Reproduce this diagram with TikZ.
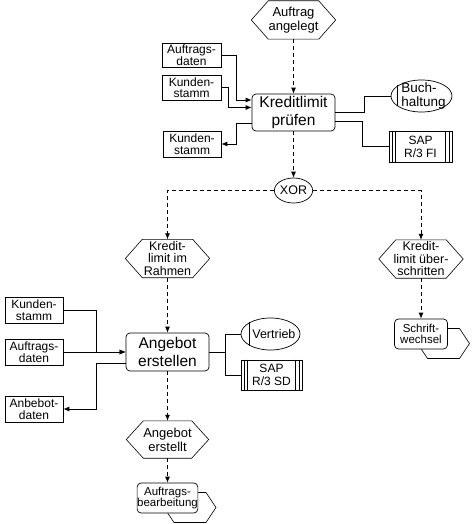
\documentclass[tikz,border=0pt]{standalone}
\usepackage{fontspec}
\setmainfont{Liberation Sans}
\usetikzlibrary{shapes.geometric,arrows.meta,calc,backgrounds}
\begin{document}
\begin{tikzpicture}[x=1pt,y=-1pt,
  ln/.style={line width=0.8pt},
  arr/.style={line width=0.8pt,-{Latex[length=6pt,width=5pt]}},
  dsh/.style={line width=0.8pt,dash pattern=on 4pt off 3pt,-{Latex[length=6pt,width=5pt]}},
  databox/.style={draw,line width=0.7pt,rectangle,inner sep=0pt,align=center,fill=white,
    font=\fontsize{12}{11.5}\selectfont},
  proc/.style={draw,line width=0.7pt,rectangle,rounded corners=4pt,inner sep=0pt,align=center,fill=white,
    font=\fontsize{15.5}{17.5}\selectfont},
  smallproc/.style={draw,line width=0.7pt,rectangle,rounded corners=4pt,inner sep=0pt,align=center,fill=white,
    font=\fontsize{11.5}{11.5}\selectfont},
  event/.style={rectangle,inner sep=0pt,align=center,minimum width=84pt,minimum height=38pt,
    font=\fontsize{13}{14}\selectfont},
  orgunit/.style={draw,line width=0.7pt,ellipse,inner sep=0pt},
  orgtext/.style={anchor=west,align=left,inner sep=0pt,font=\fontsize{13}{14}\selectfont},
  sysbox/.style={draw,line width=0.7pt,rectangle,inner sep=0pt,align=center,
    font=\fontsize{12}{13}\selectfont},
  thinln/.style={line width=0.6pt}
]
\useasboundingbox (0,0) rectangle (473,524);

% --- events
\node[event] (ev1) at (293.5,20) {Auftrag\\angelegt};
\node[event,font=\fontsize{12.5}{12.5}\selectfont] (ev2) at (167.5,258.5) {Kredit-\\limit im\\Rahmen};
\node[event,font=\fontsize{12.5}{12.5}\selectfont] (ev3) at (421,259) {Kredit-\\limit über-\\schritten};
\node[event,minimum width=82pt,minimum height=37pt] (ev4) at (167.5,439.5) {Angebot\\erstellt};

% --- functions
\node[proc,minimum width=83pt,minimum height=37pt] (f1) at (293.5,112.5) {Kreditlimit\\prüfen};
\node[proc,minimum width=83pt,minimum height=38pt] (f2) at (167.5,352) {Angebot\\erstellen};
\node[smallproc,minimum width=60pt,minimum height=30pt] (f3) at (167.5,498) {Auftrags-\\bearbeitung};
\node[smallproc,minimum width=53pt,minimum height=30pt] (f4) at (421,334) {Schrift-\\wechsel};

% --- data
\node[databox,minimum width=59pt,minimum height=24pt] (d1) at (191.5,55) {Auftrags-\\daten};
\node[databox,minimum width=59pt,minimum height=25pt] (d2) at (191.5,87.5) {Kunden-\\stamm};
\node[databox,minimum width=58pt,minimum height=26pt] (d3) at (192,144) {Kunden-\\stamm};
\node[databox,minimum width=58pt,minimum height=26pt] (d4) at (34,310) {Kunden-\\stamm};
\node[databox,minimum width=58pt,minimum height=26pt] (d5) at (34,352) {Auftrags-\\daten};
\node[databox,minimum width=58pt,minimum height=26pt] (d6) at (34,409) {Anbebot-\\daten};

% --- organisational units
\node[orgunit,minimum width=61pt,minimum height=32pt] (o1) at (421.5,96) {};
\node[orgtext,font=\fontsize{13.5}{14.5}\selectfont] (o1t) at ($(o1.west)+(10.5,0)$) {Buch-\\haltung};
\node[orgunit,minimum width=59pt,minimum height=32pt] (o2) at (270.5,334) {};
\node[orgtext,font=\fontsize{12.5}{14}\selectfont] (o2t) at ($(o2.west)+(11.5,0)$) {Vertrieb};
\draw[thinln] ($(o1.west)+(7,-10.5)$) -- ($(o1.west)+(7,10.5)$);
\draw[thinln] ($(o2.west)+(9,-12)$) -- ($(o2.west)+(9,12)$);

% --- systems
\node[sysbox,minimum width=63pt,minimum height=31pt] (s1) at (420.5,146.5) {SAP\\R/3 FI};
\node[sysbox,minimum width=61pt,minimum height=30pt] (s2) at (271.5,375) {SAP\\R/3 SD};
\foreach \n in {s1,s2} {
  \draw[thinln] ([xshift=3.5pt]\n.north west) -- ([xshift=3.5pt]\n.south west);
  \draw[thinln] ([xshift=7pt]\n.north west) -- ([xshift=7pt]\n.south west);
  \draw[thinln] ([xshift=-3.5pt]\n.north east) -- ([xshift=-3.5pt]\n.south east);
  \draw[thinln] ([xshift=-7pt]\n.north east) -- ([xshift=-7pt]\n.south east);
}

% --- XOR
\node[draw,line width=0.7pt,ellipse,inner sep=0pt,minimum width=31pt,minimum height=25pt,
  font=\fontsize{12.5}{12.5}\selectfont] (xor) at (293.5,190.5) {XOR};

% --- hexagon outlines of events
\foreach \n in {ev1,ev2,ev3,ev4}
  \draw[thinln] (\n.west) -- ([xshift=17pt]\n.north west) -- ([xshift=-17pt]\n.north east)
    -- (\n.east) -- ([xshift=-17pt]\n.south east) -- ([xshift=17pt]\n.south west) -- cycle;

% --- hexagons behind process paths
\begin{scope}[on background layer]
  \fill[white] (0,0) rectangle (473,524);
  \foreach \n in {f3,f4}
    \draw[thinln] ($(\n.center)+(-3.5,9.5)$) -- ($(\n.center)+(6.5,-5.5)$) -- ($(\n.center)+(38.5,-5.5)$)
      -- ($(\n.center)+(48.5,9.5)$) -- ($(\n.center)+(38.5,24.5)$) -- ($(\n.center)+(6.5,24.5)$) -- cycle;
\end{scope}

% --- connectors top function
\draw[arr] (d1.east) -- ++(15,0) |- ($(f1.west)+(0,-12.5)$);
\draw[arr] (d2.east) -- ++(7,0) |- ($(f1.west)+(0,-5)$);
\draw[arr] ($(f1.west)+(0,10.5)$) -- ++(-15,0) |- (d3.east);
\draw[ln] (f1.east) -- ++(29,0) |- (o1.west);
\draw[ln] ($(f1.east)+(0,9)$) -- ++(27,0) |- (s1.west);

% --- control flow
\draw[dsh] (ev1.south) -- (f1.north);
\draw[dsh] (f1.south) -- (xor.north);
\draw[dsh] (xor.west) -| (ev2.north);
\draw[dsh] (xor.east) -| (ev3.north);
\draw[dsh] (ev2.south) -- (f2.north);
\draw[dsh] (ev3.south) -- (ev3.south |- f4.north);
\draw[dsh] (f2.south) -- (ev4.north);
\draw[dsh] (ev4.south) -- (f3.north);

% --- connectors second function
\draw[arr] (d4.east) -- ++(33,0) |- (f2.west);
\draw[arr] (d5.east) -- (f2.west);
\draw[arr] ($(f2.west)+(0,11)$) -- ++(-29,0) |- (d6.east);
\coordinate (j2) at ($(f2.east)+(16.5,0)$);
\draw[ln] (f2.east) -- (j2) |- (o2.west);
\draw[ln] (j2) |- (s2.west);
\end{tikzpicture}
\end{document}
